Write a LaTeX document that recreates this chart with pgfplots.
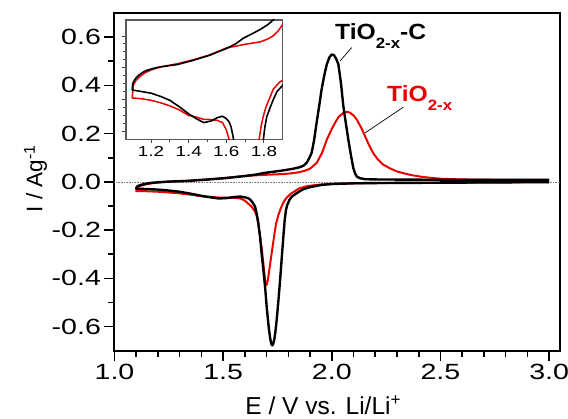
\documentclass[border=0pt]{standalone}
\usepackage{fontspec}
\setmainfont{Liberation Sans}
\newfontfamily\tickfont{Liberation Sans}[FakeStretch=1.3]
\newfontfamily\labfont{Liberation Sans}[FakeStretch=1.12]
\usepackage{pgfplots}
\usepackage{pgfplotstable}
\pgfplotsset{compat=1.18}
\usetikzlibrary{calc}
\definecolor{cred}{RGB}{235,0,0}

% TiO2-x-C : cathodic sweep 3.0 -> 1.1, then anodic sweep 1.1 -> 3.0
\pgfplotstableread{
E I
3.00 -0.001
2.80 -0.002
2.60 -0.003
2.40 -0.004
2.20 -0.005
2.10 -0.006
2.00 -0.009
1.95 -0.013
1.90 -0.022
1.87 -0.030
1.85 -0.040
1.83 -0.052
1.815 -0.062
1.805 -0.075
1.795 -0.095
1.789 -0.117
1.783 -0.160
1.777 -0.228
1.770 -0.310
1.762 -0.408
1.754 -0.495
1.746 -0.575
1.740 -0.625
1.735 -0.655
1.730 -0.672
1.726 -0.678
1.722 -0.673
1.717 -0.652
1.712 -0.620
1.708 -0.589
1.700 -0.515
1.693 -0.436
1.685 -0.365
1.677 -0.297
1.670 -0.230
1.662 -0.172
1.655 -0.135
1.647 -0.103
1.642 -0.095
1.635 -0.085
1.625 -0.074
1.615 -0.068
1.600 -0.064
1.580 -0.061
1.550 -0.063
1.520 -0.067
1.480 -0.069
1.440 -0.064
1.400 -0.058
1.350 -0.049
1.300 -0.041
1.250 -0.036
1.200 -0.032
1.150 -0.030
1.100 -0.028
1.102 -0.022
1.106 -0.018
1.120 -0.013
1.133 -0.0097
1.155 -0.006
1.177 -0.0034
1.210 -0.001
1.250 0.001
1.340 0.004
1.420 0.009
1.510 0.0155
1.600 0.024
1.650 0.030
1.690 0.037
1.740 0.043
1.780 0.048
1.820 0.054
1.850 0.060
1.870 0.067
1.885 0.080
1.897 0.100
1.907 0.120
1.918 0.170
1.930 0.245
1.942 0.315
1.953 0.383
1.965 0.440
1.977 0.488
1.990 0.518
2.000 0.528
2.010 0.525
2.020 0.510
2.030 0.488
2.042 0.410
2.053 0.314
2.065 0.240
2.076 0.175
2.088 0.110
2.099 0.057
2.107 0.035
2.115 0.022
2.130 0.015
2.153 0.011
2.200 0.010
2.400 0.009
2.600 0.008
2.800 0.008
3.000 0.008
}\blackcv

% TiO2-x
\pgfplotstableread{
E I
3.00 -0.001
2.60 -0.003
2.20 -0.005
2.00 -0.008
1.95 -0.011
1.90 -0.016
1.884 -0.018
1.850 -0.027
1.831 -0.038
1.810 -0.050
1.796 -0.062
1.785 -0.074
1.775 -0.090
1.765 -0.110
1.755 -0.135
1.743 -0.175
1.733 -0.235
1.723 -0.297
1.714 -0.355
1.706 -0.405
1.701 -0.425
1.698 -0.428
1.694 -0.415
1.690 -0.385
1.685 -0.339
1.678 -0.280
1.670 -0.228
1.662 -0.175
1.654 -0.140
1.645 -0.120
1.630 -0.102
1.615 -0.090
1.600 -0.078
1.580 -0.069
1.550 -0.066
1.500 -0.065
1.480 -0.065
1.440 -0.062
1.400 -0.060
1.350 -0.053
1.300 -0.048
1.250 -0.044
1.200 -0.041
1.150 -0.039
1.100 -0.038
1.103 -0.030
1.106 -0.022
1.120 -0.016
1.142 -0.011
1.170 -0.006
1.200 -0.003
1.248 0.001
1.340 0.005
1.424 0.010
1.510 0.016
1.602 0.025
1.650 0.027
1.690 0.029
1.740 0.031
1.778 0.0323
1.820 0.036
1.849 0.040
1.875 0.046
1.899 0.054
1.930 0.078
1.955 0.120
1.977 0.175
2.000 0.220
2.015 0.245
2.030 0.268
2.050 0.284
2.062 0.289
2.072 0.290
2.085 0.286
2.100 0.275
2.115 0.258
2.135 0.225
2.153 0.189
2.170 0.155
2.190 0.120
2.210 0.095
2.237 0.071
2.270 0.055
2.300 0.043
2.360 0.029
2.420 0.020
2.500 0.013
2.600 0.010
2.800 0.008
3.000 0.008
}\redcv

\begin{document}
\begin{tikzpicture}
\begin{axis}[name=main,
  scale only axis, width=445.5pt, height=337.7pt,
  xmin=1, xmax=3.05, ymin=-0.7, ymax=0.7,
  xtick={1,1.5,2,2.5,3}, minor x tick num=4,
  ytick={-0.6,-0.4,-0.2,0,0.2,0.4,0.6}, minor y tick num=1,
  tick pos=left, tick align=outside,
  major tick length=10pt, minor tick length=6pt,
  every tick/.style={line width=1.6pt, black},
  axis line style={line width=2pt},
  /pgf/number format/.cd, fixed, fixed zerofill, precision=1, assume math mode=true, /pgfplots/.cd,
  tick label style={font=\tickfont\fontsize{22}{26}\selectfont},
  xlabel={E / V vs. Li/Li\textsuperscript{+}},
  ylabel={I / Ag\textsuperscript{-1}},
  every axis x label/.style={at={(rel axis cs:0.5,0)}, anchor=base, xshift=-14pt, yshift=-63.5pt, font=\fontsize{24.5}{28}\selectfont},
  every axis y label/.style={at={(rel axis cs:0,0.5)}, xshift=-79pt, yshift=3pt, rotate=90, anchor=center, font=\fontsize{22.5}{26}\selectfont},
]
\addplot[densely dotted, gray, line width=0.6pt] coordinates {(1,0) (3.05,0)};
\addplot[cred, line width=2pt, line join=round] table[x=E, y=I] {\redcv};
\addplot[black, line width=2.4pt, line join=round] table[x=E, y=I] {\blackcv};
\draw[line width=0.7pt] (axis cs:2.0916,0.557) -- (axis cs:2.0377,0.501);
\draw[line width=0.7pt] (axis cs:2.329,0.3096) -- (axis cs:2.153,0.203);
\node[anchor=base west, inner sep=0pt, font=\labfont\bfseries\fontsize{22}{24}\selectfont] at (axis cs:2.0147,0.592) {TiO\raisebox{-9pt}{\fontsize{15}{16}\selectfont 2-x}-C};
\node[anchor=base west, inner sep=0pt, text=cred, font=\labfont\bfseries\fontsize{22}{24}\selectfont] at (axis cs:2.254,0.3346) {TiO\raisebox{-9pt}{\fontsize{15}{16}\selectfont 2-x}};
\end{axis}

\begin{axis}[name=inset,
  at={($(main.south west)+(11.5pt,211.4pt)$)}, anchor=south west,
  scale only axis, width=156.7pt, height=119.3pt,
  xmin=1.067, xmax=1.9, ymin=-0.09, ymax=0.06,
  xtick={1.2,1.4,1.6,1.8}, minor x tick num=1,
  ytick={-0.08,-0.04,0,0.04}, minor y tick num=3, yticklabels={},
  scaled y ticks=false, scaled x ticks=false,
  tick pos=left, tick align=outside,
  major tick length=4pt, minor tick length=2.5pt,
  every tick/.style={line width=0.8pt, black!75},
  axis line style={line width=1.2pt, black!65},
  /pgf/number format/.cd, fixed, fixed zerofill, precision=1, assume math mode=true, /pgfplots/.cd,
  xticklabel style={font=\tickfont\fontsize{14.5}{16}\selectfont},
]
\addplot[cred, line width=1.5pt, line join=round] table[x=E, y=I] {\redcv};
\addplot[black, line width=1.6pt, line join=round] table[x=E, y=I] {\blackcv};
\end{axis}

\pgfresetboundingbox
\useasboundingbox ($(main.south west)+(-114.5pt,-67.3pt)$) rectangle ++(568pt,418pt);
\end{tikzpicture}
\end{document}
